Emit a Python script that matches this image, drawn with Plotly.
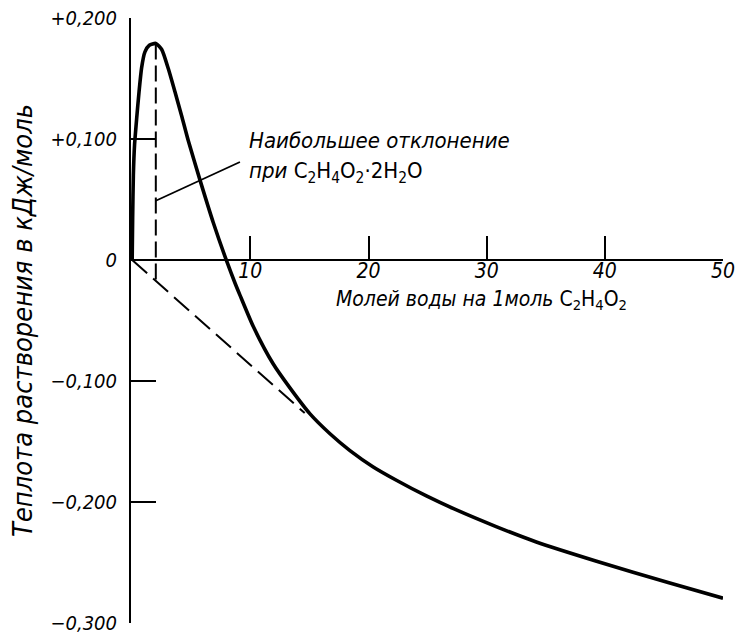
import plotly.graph_objects as go

# Data
x_curve = [0, 0.04, 0.1, 0.2, 0.38, 0.58, 0.8, 1.08, 1.45, 2.0, 2.5, 3.06, 3.62,
           4.19, 4.75, 5.74, 6.86, 8.0, 8.7, 9.12, 10.25, 11.94, 13.35, 15.05,
           16.74, 18.43, 20.4, 22.4, 24.9, 27.2, 30.85, 34.2, 39.3, 45.5, 50]
y_curve = [0, 0.035, 0.070, 0.095, 0.117, 0.139, 0.159, 0.172, 0.1775, 0.179,
           0.174, 0.158, 0.139, 0.119, 0.0985, 0.066, 0.031, -0.001, -0.019,
           -0.029, -0.055, -0.086, -0.1057, -0.1272, -0.1436, -0.1575, -0.171,
           -0.1822, -0.1950, -0.2055, -0.2205, -0.2330, -0.2489, -0.267, -0.2795]

tangent_x = [0, 14.6]
tangent_y = [0, -0.1265]

peak_x = [2, 2]
peak_y = [0.179, -0.0173]

pointer_x = [2.0, 9.12]
pointer_y = [0.049, 0.081]

x_ticks = [10, 20, 30, 40, 50]
x_ticktext = ["10", "20", "30", "40", "50"]
y_ticks = [0.2, 0.1, 0, -0.1, -0.2, -0.3]
y_ticktext = ["+0,200", "+0,100", "0", "\u22120,100", "\u22120,200", "\u22120,300"]

FONT = "DejaVu Sans Condensed, DejaVu Sans, sans-serif"

fig = go.Figure()
fig.add_trace(go.Scatter(x=tangent_x, y=tangent_y, mode="lines",
                         line=dict(color="black", width=2, dash="20px,8px"),
                         hoverinfo="skip", showlegend=False))
fig.add_trace(go.Scatter(x=peak_x, y=peak_y, mode="lines",
                         line=dict(color="black", width=2, dash="16px,6px"),
                         hoverinfo="skip", showlegend=False))
fig.add_trace(go.Scatter(x=pointer_x, y=pointer_y, mode="lines",
                         line=dict(color="black", width=1.8),
                         hoverinfo="skip", showlegend=False))
fig.add_trace(go.Scatter(x=x_curve, y=y_curve, mode="lines",
                         line=dict(color="black", width=3.6, shape="spline", smoothing=0.6),
                         showlegend=False))

fig.update_layout(
    width=735, height=634,
    margin=dict(l=131, r=12, t=18, b=11, autoexpand=False),
    paper_bgcolor="white", plot_bgcolor="white",
    font=dict(family=FONT, color="black", size=20),
    xaxis=dict(range=[-0.1, 50], anchor="free", position=0.6, automargin=False,
               showline=True, linecolor="black", linewidth=2,
               showgrid=False, zeroline=False,
               tickvals=x_ticks, ticktext=x_ticktext,
               ticks="inside", ticklen=23, tickwidth=1.5, tickcolor="black",
               ticklabeloverflow="allow", ticklabelstandoff=-8,
               tickfont=dict(size=21, style="italic", family=FONT)),
    yaxis=dict(range=[-0.3, 0.2], automargin=False,
               showline=True, linecolor="black", linewidth=2,
               showgrid=False, zeroline=False,
               tickvals=y_ticks, ticktext=y_ticktext,
               ticks="inside", ticklen=25, tickwidth=1.5, tickcolor="black",
               ticklabelstandoff=8, ticklabeloverflow="allow",
               tickfont=dict(size=20, style="italic", family=FONT),
               title=dict(text="Теплота растворения в кДж/моль",
                          font=dict(size=27, style="italic", family=FONT),
                          standoff=10)),
    annotations=[
        dict(x=9.7, y=0.0985, xref="x", yref="y", xanchor="left", yanchor="middle",
             showarrow=False, align="left",
             text="<i>Наибольшее отклонение</i>",
             font=dict(size=22, family=FONT)),
        dict(x=9.7, y=0.072, xref="x", yref="y", xanchor="left", yanchor="middle",
             showarrow=False, align="left",
             text="<i>при</i> C<sub>2</sub>H<sub>4</sub>O<sub>2</sub>\u00b72H<sub>2</sub>O",
             font=dict(size=22, family=FONT)),
        dict(x=17.1, y=-0.033, xref="x", yref="y", xanchor="left", yanchor="middle",
             showarrow=False,
             text="<i>Молей воды на 1моль</i> C<sub>2</sub>H<sub>4</sub>O<sub>2</sub>",
             font=dict(size=21, family=FONT)),
    ],
)

fig.write_html("out.html")
